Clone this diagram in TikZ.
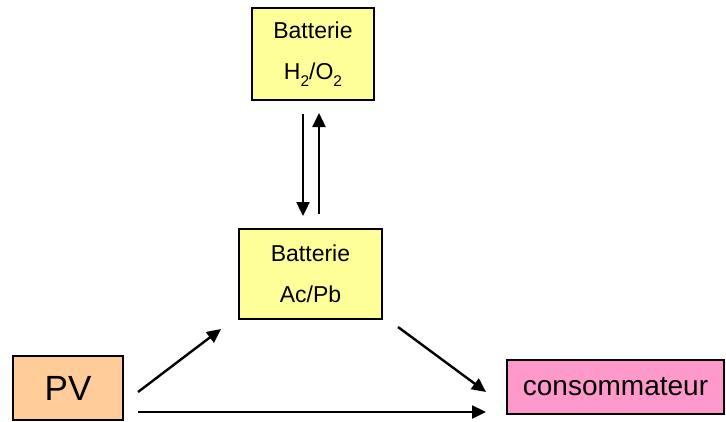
\documentclass[tikz,border=0pt]{standalone}
\usepackage{fontspec}
\setmainfont{Liberation Sans}
\usetikzlibrary{arrows.meta}
\definecolor{battyellow}{HTML}{FFFF99}
\definecolor{pvorange}{HTML}{FFCC99}
\definecolor{conspink}{HTML}{FF99CC}
\newcommand{\subtwo}{\raisebox{-0.28em}{\fontsize{15.5}{15.5}\selectfont 2}}
\begin{document}
\begin{tikzpicture}[x=1pt,y=-1pt,
  boxstyle/.style={draw=black,line width=1.9pt,rectangle,inner sep=0pt,align=center},
  battbox/.style={boxstyle,fill=battyellow,font=\fontsize{23}{41}\selectfont},
  flow/.style={line width=2.4pt,-{Triangle[length=14pt,width=13pt]}}]
\useasboundingbox (0,0) rectangle (726,421);
\node[battbox,minimum width=122pt,minimum height=92pt] (h2) at (313,54) {Batterie\\H\subtwo/O\subtwo};
\node[battbox,minimum width=143pt,minimum height=90pt] (pb) at (310.5,274) {Batterie\\Ac/Pb};
\node[boxstyle,fill=pvorange,minimum width=110pt,minimum height=64pt,font=\fontsize{35}{35}\selectfont] (pv) at (68,388) {PV};
\node[boxstyle,fill=conspink,minimum width=217pt,minimum height=54pt,font=\fontsize{28}{28}\selectfont] (cons) at (615.5,387) {consommateur};
\coordinate (d1) at (303,114);
\coordinate (d2) at (303,216);
\coordinate (u1) at (319,214);
\coordinate (u2) at (319,113);
\coordinate (a1) at (138,392);
\coordinate (a2) at (221,329);
\coordinate (b1) at (398,327);
\coordinate (b2) at (486,392);
\coordinate (c1) at (138,412);
\coordinate (c2) at (486,412);
\draw[flow] (d1) -- (d2);
\draw[flow] (u1) -- (u2);
\draw[flow] (a1) -- (a2);
\draw[flow] (b1) -- (b2);
\draw[flow] (c1) -- (c2);
\end{tikzpicture}
\end{document}
